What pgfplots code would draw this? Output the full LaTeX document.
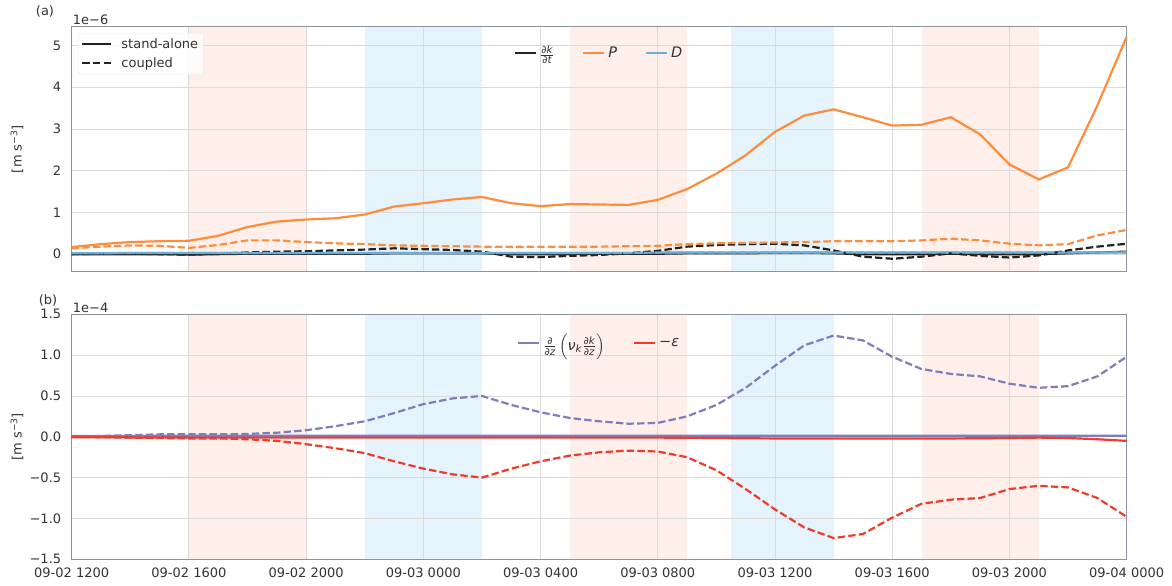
\documentclass[border=0pt]{standalone}
\usepackage{fontspec}
\setmainfont{DejaVu Sans}
\usepackage{amsmath}
\usepackage{pgfplots}
\usepackage{pgfplotstable}
\pgfplotsset{compat=1.18}

\definecolor{txt}{HTML}{333333}
\definecolor{framec}{HTML}{8C959E}
\definecolor{gridc}{HTML}{DADADA}
\definecolor{cK}{HTML}{222222}
\definecolor{cP}{HTML}{FD8D3C}
\definecolor{cD}{HTML}{6BAED6}
\definecolor{cT}{HTML}{807DBA}
\definecolor{cE}{HTML}{EF3B2C}
\definecolor{pinkbg}{RGB}{254,239,235}
\definecolor{bluebg}{RGB}{228,243,252}

% hourly TKE budget terms, 09-02 1200 (h=0) to 09-04 0000 (h=36)
% top panel in 1e-6 m s^-3
\pgfplotstableread{
h  Ks    Ps    Ds    Kc     Pc    Dc
0  0.00  0.17  0.02  0.00   0.14  0.02
1  0.00  0.24  0.02  0.01   0.18  0.02
2  0.00  0.29  0.03  0.01   0.21  0.03
3  0.00  0.31  0.03  0.00   0.20  0.03
4  -0.01 0.32  0.03  -0.01  0.15  0.03
5  0.00  0.44  0.03  0.01   0.22  0.03
6  0.01  0.65  0.03  0.04   0.33  0.03
7  0.01  0.78  0.03  0.06   0.33  0.03
8  0.01  0.83  0.03  0.07   0.29  0.03
9  0.01  0.86  0.03  0.09   0.26  0.03
10 0.01  0.95  0.03  0.11   0.24  0.03
11 0.02  1.14  0.03  0.14   0.21  0.03
12 0.02  1.22  0.03  0.12   0.20  0.03
13 0.02  1.31  0.03  0.10   0.19  0.03
14 0.02  1.37  0.03  0.06   0.18  0.03
15 0.00  1.22  0.03  -0.06  0.18  0.03
16 0.00  1.15  0.03  -0.07  0.18  0.03
17 0.00  1.20  0.03  -0.04  0.18  0.03
18 0.01  1.19  0.03  -0.02  0.18  0.03
19 0.01  1.18  0.03  0.02   0.19  0.03
20 0.01  1.30  0.04  0.08   0.20  0.04
21 0.02  1.56  0.04  0.18   0.24  0.04
22 0.02  1.93  0.04  0.22   0.26  0.04
23 0.02  2.37  0.04  0.24   0.27  0.04
24 0.03  2.93  0.04  0.25   0.28  0.04
25 0.03  3.32  0.04  0.21   0.29  0.04
26 0.02  3.47  0.04  0.09   0.31  0.04
27 0.00  3.28  0.04  -0.06  0.31  0.04
28 0.00  3.08  0.04  -0.11  0.31  0.04
29 0.00  3.10  0.04  -0.06  0.33  0.04
30 0.01  3.28  0.04  0.02   0.37  0.04
31 0.00  2.87  0.04  -0.04  0.33  0.04
32 0.00  2.15  0.04  -0.08  0.25  0.04
33 0.00  1.79  0.04  -0.03  0.21  0.04
34 0.02  2.08  0.04  0.09   0.24  0.04
35 0.04  3.56  0.04  0.18   0.45  0.04
36 0.06  5.21  0.04  0.25   0.58  0.04
}\toptable

% bottom panel in 1e-4 m s^-3
\pgfplotstableread{
h  Ts     Es     Tc     Ec
0  0.010  -0.005 0.000  0.000
1  0.010  -0.005 0.010  -0.005
2  0.010  -0.008 0.020  -0.010
3  0.012  -0.008 0.030  -0.015
4  0.012  -0.010 0.030  -0.020
5  0.012  -0.010 0.030  -0.020
6  0.012  -0.010 0.035  -0.030
7  0.012  -0.010 0.050  -0.050
8  0.012  -0.010 0.080  -0.090
9  0.012  -0.010 0.130  -0.140
10 0.012  -0.010 0.190  -0.200
11 0.012  -0.010 0.290  -0.300
12 0.012  -0.010 0.400  -0.390
13 0.012  -0.010 0.470  -0.460
14 0.012  -0.010 0.500  -0.500
15 0.012  -0.010 0.390  -0.390
16 0.012  -0.010 0.300  -0.300
17 0.012  -0.010 0.230  -0.230
18 0.012  -0.010 0.190  -0.190
19 0.012  -0.010 0.160  -0.170
20 0.012  -0.010 0.170  -0.180
21 0.012  -0.012 0.250  -0.250
22 0.012  -0.015 0.390  -0.410
23 0.012  -0.018 0.600  -0.640
24 0.012  -0.020 0.870  -0.890
25 0.012  -0.020 1.120  -1.110
26 0.012  -0.020 1.240  -1.240
27 0.012  -0.020 1.180  -1.190
28 0.012  -0.020 0.980  -0.990
29 0.012  -0.020 0.830  -0.820
30 0.012  -0.020 0.770  -0.770
31 0.012  -0.018 0.740  -0.750
32 0.012  -0.015 0.650  -0.640
33 0.012  -0.010 0.600  -0.600
34 0.012  -0.015 0.620  -0.620
35 0.012  -0.030 0.740  -0.750
36 0.012  -0.050 0.980  -0.980
}\bottable

\newcommand{\fs}{\fontsize{13}{15}\selectfont}

\pgfplotsset{
  panel/.style={
    width=1055pt, height=245pt, scale only axis,
    set layers,
    xmin=0, xmax=36, xtick={0,4,...,36},
    grid=major, major grid style={gridc, line width=0.9pt},
    axis line style={framec, line width=1pt},
    major tick length=0pt,
    tick label style={font=\fs, text=txt},
    yticklabel style={xshift=-7pt},
    xticklabel style={yshift=-5pt},
    every axis y label/.style={at={(axis description cs:-0.0518,0.5)}, rotate=90, anchor=center,
      font=\fs, text=txt},
    legend cell align=left,
    legend image code/.code={\draw[#1, line width=2.2pt] (0pt,0pt) -- (21pt,0pt);},
    legend style={draw=none, fill=none, font=\fontsize{14.5}{17}\selectfont, text=txt,
      /tikz/every odd column/.append style={column sep=1pt},
      /tikz/every even column/.append style={column sep=26pt}},
  },
  dashedl/.style={dash pattern=on 7.4pt off 3.2pt},
  lw/.style={line width=2.2pt},
}

\begin{document}
\begin{tikzpicture}

% ---------------- panel (a) ----------------
\begin{axis}[panel, name=top,
  at={(71.7pt,314.3pt)}, anchor=south west,
  ymin=-0.42, ymax=5.45, ytick={0,1,2,3,4,5},
  xticklabels={},
  /pgf/number format/assume math mode=true,
  ylabel={[m s\textsuperscript{−3}]},
  legend columns=3,
  legend style={at={(axis description cs:0.5,0.893)}, anchor=center},
  shade/.style={draw=none, fill=#1, forget plot, on layer=axis background},
]
\addplot[shade=pinkbg] coordinates {(4,-0.42) (4,5.45) (8,5.45) (8,-0.42)} -- cycle;
\addplot[shade=bluebg] coordinates {(10,-0.42) (10,5.45) (14,5.45) (14,-0.42)} -- cycle;
\addplot[shade=pinkbg] coordinates {(17,-0.42) (17,5.45) (21,5.45) (21,-0.42)} -- cycle;
\addplot[shade=bluebg] coordinates {(22.5,-0.42) (22.5,5.45) (26,5.45) (26,-0.42)} -- cycle;
\addplot[shade=pinkbg] coordinates {(29,-0.42) (29,5.45) (33,5.45) (33,-0.42)} -- cycle;

\addlegendimage{cK, lw}\addlegendentry{$\frac{\text{∂\textit{k}}}{\text{∂\textit{t}}}$}
\addlegendimage{cP, lw}\addlegendentry{\textit{P}}
\addlegendimage{cD, lw}\addlegendentry{\textit{D}}

\addplot[cK, lw, forget plot] table[x=h, y=Ks] {\toptable};
\addplot[cP, lw, forget plot] table[x=h, y=Ps] {\toptable};
\addplot[cD, lw, forget plot] table[x=h, y=Ds] {\toptable};
\addplot[cK, lw, dashedl, forget plot] table[x=h, y=Kc] {\toptable};
\addplot[cP, lw, dashedl, forget plot] table[x=h, y=Pc] {\toptable};
\addplot[cD, lw, dashedl, forget plot] table[x=h, y=Dc] {\toptable};
\end{axis}

% line-style key for panel (a)
\begin{axis}[
  at={(71.7pt,314.3pt)}, anchor=south west,
  width=1055pt, height=245pt, scale only axis, hide axis,
  xmin=0, xmax=1, ymin=0, ymax=1,
  legend cell align=left,
  legend image code/.code={\draw[#1, line width=2.2pt] (0pt,0pt) -- (29pt,0pt);},
  legend style={at={(axis description cs:0.006,0.974)}, anchor=north west,
    draw=gridc!60, fill=white, fill opacity=0.8, text opacity=1, rounded corners=2pt,
    font=\fs, text=txt,
    row sep=4pt, inner xsep=3pt, inner ysep=3pt,
    /tikz/every odd column/.append style={column sep=7pt}},
]
\addplot[draw=none, forget plot] coordinates {(0,0) (1,1)};
\addlegendimage{cK, lw}\addlegendentry{stand-alone}
\addlegendimage{cK, lw, dashedl}\addlegendentry{coupled}
\end{axis}

% ---------------- panel (b) ----------------
\begin{axis}[panel, name=bot,
  at={(71.7pt,26.7pt)}, anchor=south west,
  ymin=-1.5, ymax=1.5, ytick={-1.5,-1,-0.5,0,0.5,1,1.5},
  yticklabels={−1.5,−1.0,−0.5,0.0,0.5,1.0,1.5},
  xticklabels={09-02 1200,09-02 1600,09-02 2000,09-03 0000,09-03 0400,09-03 0800,09-03 1200,09-03 1600,09-03 2000,09-04 0000},
  ylabel={[m s\textsuperscript{−3}]},
  legend columns=2,
  legend style={at={(axis description cs:0.5,0.884)}, anchor=center},
  shade/.style={draw=none, fill=#1, forget plot, on layer=axis background},
]
\addplot[shade=pinkbg] coordinates {(4,-1.5) (4,1.5) (8,1.5) (8,-1.5)} -- cycle;
\addplot[shade=bluebg] coordinates {(10,-1.5) (10,1.5) (14,1.5) (14,-1.5)} -- cycle;
\addplot[shade=pinkbg] coordinates {(17,-1.5) (17,1.5) (21,1.5) (21,-1.5)} -- cycle;
\addplot[shade=bluebg] coordinates {(22.5,-1.5) (22.5,1.5) (26,1.5) (26,-1.5)} -- cycle;
\addplot[shade=pinkbg] coordinates {(29,-1.5) (29,1.5) (33,1.5) (33,-1.5)} -- cycle;

\addlegendimage{cT, lw}\addlegendentry{$\frac{\text{∂}}{\text{∂\textit{z}}}\left(\text{\textit{ν}}_{\text{\textit{k}}}\frac{\text{∂\textit{k}}}{\text{∂\textit{z}}}\right)$}
\addlegendimage{cE, lw}\addlegendentry{−\textit{ε}}

\addplot[cT, lw, forget plot] table[x=h, y=Ts] {\bottable};
\addplot[cE, lw, forget plot] table[x=h, y=Es] {\bottable};
\addplot[cT, lw, dashedl, forget plot] table[x=h, y=Tc] {\bottable};
\addplot[cE, lw, dashedl, forget plot] table[x=h, y=Ec] {\bottable};
\end{axis}

% panel tags and offset labels
\node[anchor=center, font=\fs, text=txt, xshift=-26.7pt, yshift=15pt] at (top.north west) {(a)};
\node[anchor=west, inner sep=0pt, font=\fs, text=txt, xshift=1pt, yshift=6.7pt] at (top.north west) {1e−6};
\node[anchor=center, font=\fs, text=txt, xshift=-23.7pt, yshift=14.3pt] at (bot.north west) {(b)};
\node[anchor=west, inner sep=0pt, font=\fs, text=txt, xshift=1pt, yshift=6.3pt] at (bot.north west) {1e−4};

% fixed page frame
\pgfresetboundingbox
\useasboundingbox (0,0) rectangle (1172pt,586pt);
\end{tikzpicture}
\end{document}
